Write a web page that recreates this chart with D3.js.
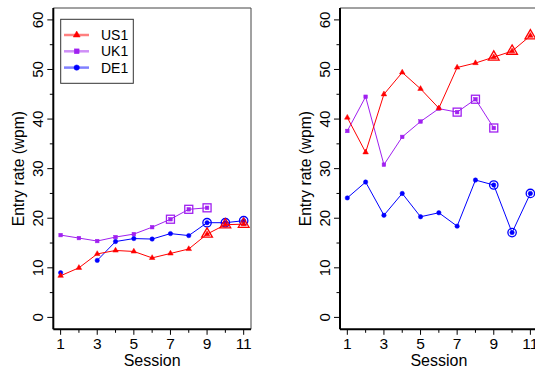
<!DOCTYPE html>
<html>
<head>
<meta charset="utf-8">
<title>Entry rate by session</title>
<script src="https://cdn.jsdelivr.net/npm/d3@7"></script>
<style>
  body { margin: 0; background: #fff; }
  svg { display: block; font-family: "Liberation Sans", Arial, Helvetica, sans-serif; }
</style>
</head>
<body>
<div id="chart"></div>
<script>
// sessions and y ticks
var sessions = [1, 2, 3, 4, 5, 6, 7, 8, 9, 10, 11];
var xLabels = [1, 3, 5, 7, 9, 11];
var yLabels = [0, 10, 20, 30, 40, 50, 60];
var yMinor = [5, 15, 25, 35, 45, 55];

var seriesNames = ["US1", "UK1", "DE1"];

// left panel values (wpm), null = no data
var leftUS1 = [8.4, 10.0, 12.8, 13.5, 13.3, 12.0, 12.9, 13.8, 16.8, 18.7, 18.8];
var leftUK1 = [16.6, 16.0, 15.4, 16.2, 16.8, 18.2, 19.8, 21.8, 22.1, null, null];
var leftDE1 = [9.0, null, 11.5, 15.3, 15.9, 15.8, 16.9, 16.5, 19.1, 19.1, 19.5];

// right panel values (wpm)
var rightUS1 = [40.3, 33.3, 45.0, 49.4, 46.1, 42.2, 50.4, 51.3, 52.5, 53.7, 56.8];
var rightUK1 = [37.6, 44.5, 30.8, 36.4, 39.5, 42.1, 41.4, 44.0, 38.2, null, null];
var rightDE1 = [24.1, 27.3, 20.6, 25.0, 20.3, 21.1, 18.4, 27.7, 26.7, 17.1, 25.0];

// sessions marked with an open symbol
var markUS1 = [9, 10, 11];
var markUK1 = [7, 8, 9];
var markDE1 = [9, 10, 11];

var colors = { US1: "#ff0000", UK1: "#a020f0", DE1: "#0000ff" };
var legendColors = { US1: "#ff8080", UK1: "#cf8ff7", DE1: "#8080ff" };
var shapes = { US1: "tri", UK1: "sq", DE1: "circ" };

var W = 535, H = 372;
var svg = d3.select("#chart").append("svg")
  .attr("width", W).attr("height", H);

var plotTop = 8, plotBottom = 329.3, panelW = 197.7;

var y = d3.scaleLinear().domain([-2.4, 62.4]).range([plotBottom, plotTop]);

function drawMarker(g, shape, cx, cy, size, filled, color) {
  if (shape == "circ") {
    g.append("circle").attr("cx", cx).attr("cy", cy).attr("r", size)
      .attr("fill", filled ? color : "none").attr("stroke", color)
      .attr("stroke-width", filled ? 0.5 : 1.3);
  } else if (shape == "sq") {
    g.append("rect").attr("x", cx - size).attr("y", cy - size)
      .attr("width", size * 2).attr("height", size * 2)
      .attr("fill", filled ? color : "none").attr("stroke", color)
      .attr("stroke-width", filled ? 0.5 : 1.3);
  } else {
    var r = size;
    var pts = [[cx, cy - r], [cx + r * 0.866, cy + r / 2], [cx - r * 0.866, cy + r / 2]];
    g.append("polygon").attr("points", pts.map(function(p) { return p.join(","); }).join(" "))
      .attr("fill", filled ? color : "none").attr("stroke", color)
      .attr("stroke-width", filled ? 0.5 : 1.3);
  }
}

function panel(left, data, marks, showLegend) {
  var x = d3.scaleLinear().domain([0.6, 11.4]).range([left, left + panelW]);
  var g = svg.append("g");

  // box: top/right thin, left/bottom heavy
  g.append("line").attr("x1", left).attr("x2", left + panelW).attr("y1", plotTop).attr("y2", plotTop)
    .attr("stroke", "#444").attr("stroke-width", 1);
  g.append("line").attr("x1", left + panelW).attr("x2", left + panelW).attr("y1", plotTop).attr("y2", plotBottom)
    .attr("stroke", "#444").attr("stroke-width", 1);
  g.append("line").attr("x1", left).attr("x2", left).attr("y1", plotTop).attr("y2", plotBottom)
    .attr("stroke", "#000").attr("stroke-width", 2);
  g.append("line").attr("x1", left).attr("x2", left + panelW).attr("y1", plotBottom).attr("y2", plotBottom)
    .attr("stroke", "#000").attr("stroke-width", 2);

  // y ticks
  yLabels.forEach(function(v) {
    g.append("line").attr("x1", left - 6).attr("x2", left).attr("y1", y(v)).attr("y2", y(v))
      .attr("stroke", "#000").attr("stroke-width", 1);
    g.append("text").attr("transform", "translate(" + (left - 10) + "," + y(v) + ") rotate(-90)")
      .attr("text-anchor", "middle").attr("font-size", 15).text(v);
  });
  yMinor.forEach(function(v) {
    g.append("line").attr("x1", left - 3.5).attr("x2", left).attr("y1", y(v)).attr("y2", y(v))
      .attr("stroke", "#000").attr("stroke-width", 1);
  });

  // x ticks
  sessions.forEach(function(s) {
    var major = xLabels.indexOf(s) >= 0;
    g.append("line").attr("x1", x(s)).attr("x2", x(s)).attr("y1", plotBottom)
      .attr("y2", plotBottom + (major ? 5.5 : 3.5))
      .attr("stroke", "#000").attr("stroke-width", 1);
  });
  xLabels.forEach(function(s) {
    g.append("text").attr("x", x(s)).attr("y", 349).attr("text-anchor", "middle")
      .attr("font-size", 15.5).text(s);
  });

  g.append("text").attr("x", left + panelW / 2).attr("y", 366).attr("text-anchor", "middle")
    .attr("font-size", 16).text("Session");
  g.append("text").attr("transform", "translate(" + (left - 29.5) + "," + ((plotTop + plotBottom) / 2) + ") rotate(-90)")
    .attr("text-anchor", "middle").attr("font-size", 15.6).text("Entry rate (wpm)");

  var line = d3.line()
    .defined(function(d) { return d != null; })
    .x(function(d, i) { return x(sessions[i]); })
    .y(function(d) { return y(d); });

  ["UK1", "DE1", "US1"].forEach(function(name) {
    var vals = data[name];
    var c = colors[name];
    g.append("path").attr("d", line(vals)).attr("fill", "none")
      .attr("stroke", c).attr("stroke-width", 1);
    var small = { tri: 3.2, sq: 1.8, circ: 2.2 }[shapes[name]];
    var big = { tri: 6.2, sq: 4, circ: 4.2 }[shapes[name]];
    vals.forEach(function(v, i) {
      if (v == null) return;
      drawMarker(g, shapes[name], x(sessions[i]), y(v), small, true, c);
      if (marks[name].indexOf(sessions[i]) >= 0)
        drawMarker(g, shapes[name], x(sessions[i]), y(v), big, false, c);
    });
  });

  if (showLegend) {
    var lg = g.append("g");
    lg.append("rect").attr("x", 60.7).attr("y", 19.3).attr("width", 72.6).attr("height", 64)
      .attr("fill", "#fff").attr("stroke", "#333").attr("stroke-width", 1);
    seriesNames.forEach(function(name, i) {
      var ly = 35 + i * 16.3;
      lg.append("line").attr("x1", 64).attr("x2", 89).attr("y1", ly).attr("y2", ly)
        .attr("stroke", legendColors[name]).attr("stroke-width", 2.5);
      var sz = { tri: 4, sq: 2.4, circ: 2.7 }[shapes[name]];
      drawMarker(lg, shapes[name], 76.7, ly, sz, true, colors[name]);
      lg.append("text").attr("x", 101).attr("y", ly + 5).attr("font-size", 14).text(name);
    });
  }
}

panel(53.3, { US1: leftUS1, UK1: leftUK1, DE1: leftDE1 },
  { US1: markUS1, UK1: markUK1, DE1: markDE1 }, true);
panel(340, { US1: rightUS1, UK1: rightUK1, DE1: rightDE1 },
  { US1: markUS1, UK1: markUK1, DE1: markDE1 }, false);
</script>
</body>
</html>
